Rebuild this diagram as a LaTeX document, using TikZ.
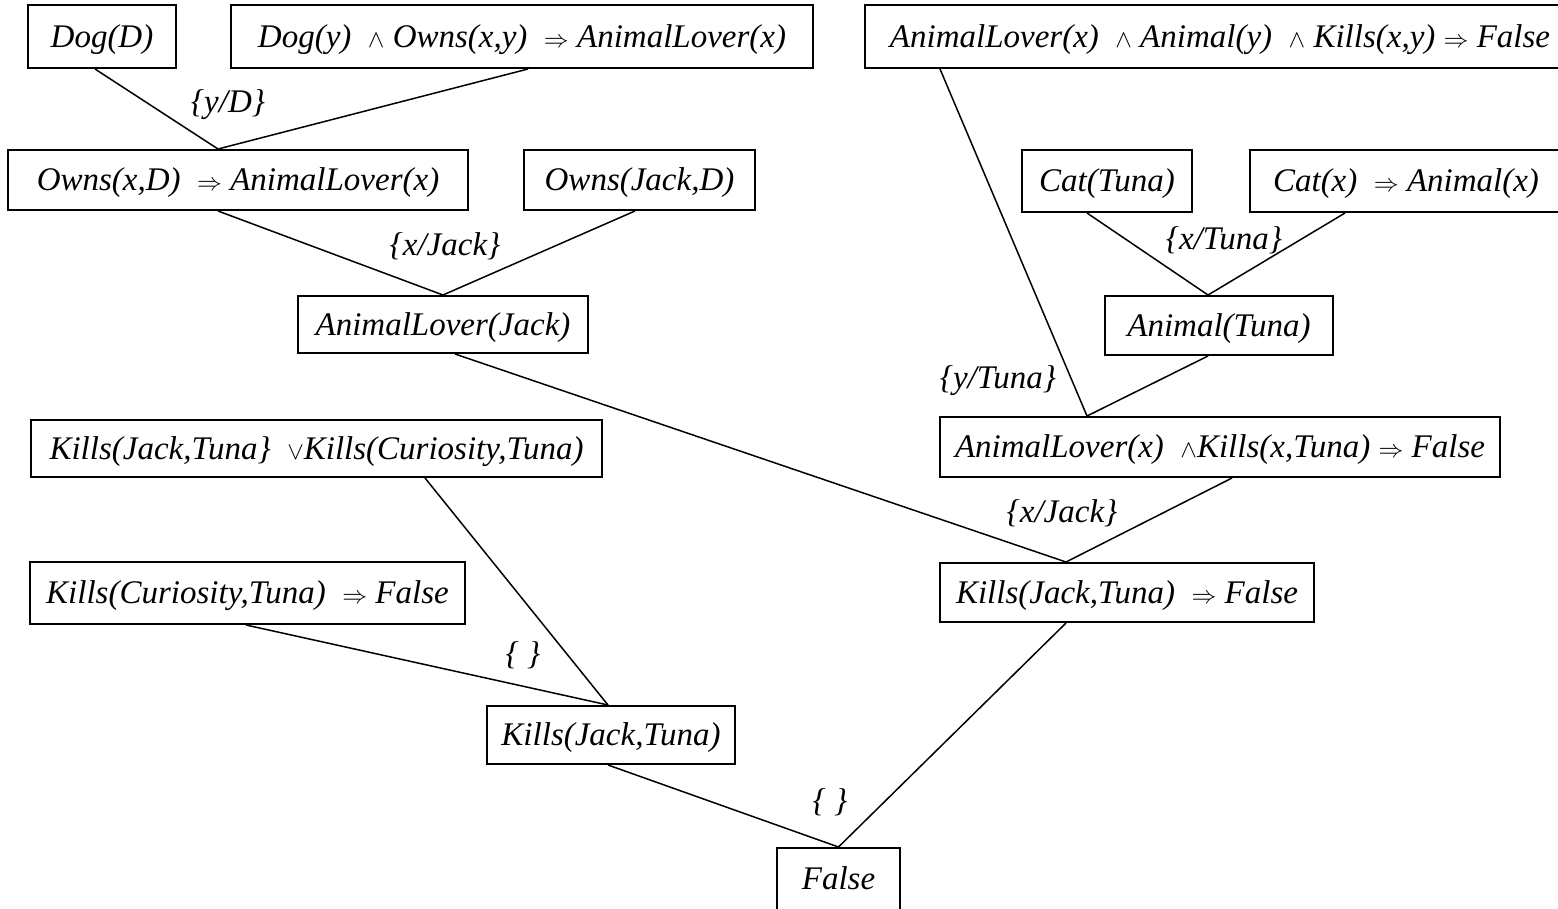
\documentclass[tikz,border=0pt]{standalone}
\usepackage{fontspec}
\setmainfont{Liberation Serif}
\usepackage{tikz}
\usetikzlibrary{positioning}

\newcommand{\impl}{{\fontsize{23}{24}\selectfont$\Rightarrow$}}
\newcommand{\conj}{{\fontsize{27}{28}\selectfont$\wedge$}}
\newcommand{\disj}{{\fontsize{27}{28}\selectfont$\vee$}}

\begin{document}
\begin{tikzpicture}[x=1pt,y=-1pt,
 main node/.style={draw,line width=2pt,inner sep=0pt,text height=25pt,text depth=4pt,
   font=\itshape\fontsize{33}{38}\selectfont},
 sub node/.style={inner sep=0pt,font=\itshape\fontsize{33}{38}\selectfont}]

  \clip (0,0) rectangle (1558,908);

  % clauses
  \node[main node,minimum width=148,minimum height=63] (dogD) at (102,36.5) {Dog(D)};
  \node[main node,minimum width=582,minimum height=63] (dogRule) at (522,36.5) {Dog(y) \ \conj \ Owns(x,y) \ \impl{} AnimalLover(x)};
  \node[main node,minimum width=710,minimum height=63] (killRule) at (1220,36.5) {AnimalLover(x) \ \conj{} Animal(y) \ \conj{} Kills(x,y) \impl{} False};
  \node[main node,minimum width=460,minimum height=60] (ownsRule) at (238,180) {Owns(x,D) \ \impl{} AnimalLover(x)};
  \node[main node,minimum width=231,minimum height=60] (ownsJD) at (639.5,180) {Owns(Jack,D)};
  \node[main node,minimum width=170,minimum height=62] (catTuna) at (1107,181) {Cat(Tuna)};
  \node[main node,minimum width=312,minimum height=62] (catRule) at (1406,181) {Cat(x) \ \impl{} Animal(x)};
  \node[main node,minimum width=290,minimum height=57] (loverJack) at (443,324.5) {AnimalLover(Jack)};
  \node[main node,minimum width=228,minimum height=59] (animalTuna) at (1219,325.5) {Animal(Tuna)};
  \node[main node,minimum width=571,minimum height=57] (orClause) at (316.5,448.5) {Kills(Jack,Tuna\} \ \disj{}Kills(Curiosity,Tuna)};
  \node[main node,minimum width=560,minimum height=60] (loverKills) at (1220,447) {AnimalLover(x) \ \conj{}Kills(x,Tuna) \impl{} False};
  \node[main node,minimum width=435,minimum height=62] (curFalse) at (247.5,593) {Kills(Curiosity,Tuna) \ \impl{} False};
  \node[main node,minimum width=374,minimum height=59] (jackFalse) at (1127,592.5) {Kills(Jack,Tuna) \ \impl{} False};
  \node[main node,minimum width=248,minimum height=58] (killsJack) at (611,735) {Kills(Jack,Tuna)};
  \node[main node,minimum width=123,minimum height=62] (false) at (838.5,879) {False};

  % resolution steps
  \foreach \s/\a/\t/\b in {dogD/-7/ownsRule/-20, dogRule/6/ownsRule/-20,
    ownsRule/-20/loverJack/0, ownsJD/-4.5/loverJack/0,
    catTuna/-20/animalTuna/-11, catRule/-61/animalTuna/-11,
    killRule/-280/loverKills/-133, animalTuna/-11/loverKills/-133,
    loverJack/12/jackFalse/-61, loverKills/12/jackFalse/-61,
    orClause/108.5/killsJack/-3, curFalse/-1.5/killsJack/-3,
    killsJack/-3/false/0, jackFalse/-61/false/0} {
   \draw[line width=1.5pt] ([xshift=\a]\s.south) -- ([xshift=\b]\t.north);}

  % unifiers
  \node[sub node] (u1) at (228,105) {\{y/D\}};
  \node[sub node] (u2) at (445,246) {\{x/Jack\}};
  \node[sub node] (u3) at (1224,240) {\{x/Tuna\}};
  \node[sub node] (u4) at (998,381) {\{y/Tuna\}};
  \node[sub node] (u5) at (1062,513) {\{x/Jack\}};
  \node[sub node] (u6) at (523,655) {\{ \}};
  \node[sub node] (u7) at (830,802) {\{ \}};

\end{tikzpicture}
\end{document}
